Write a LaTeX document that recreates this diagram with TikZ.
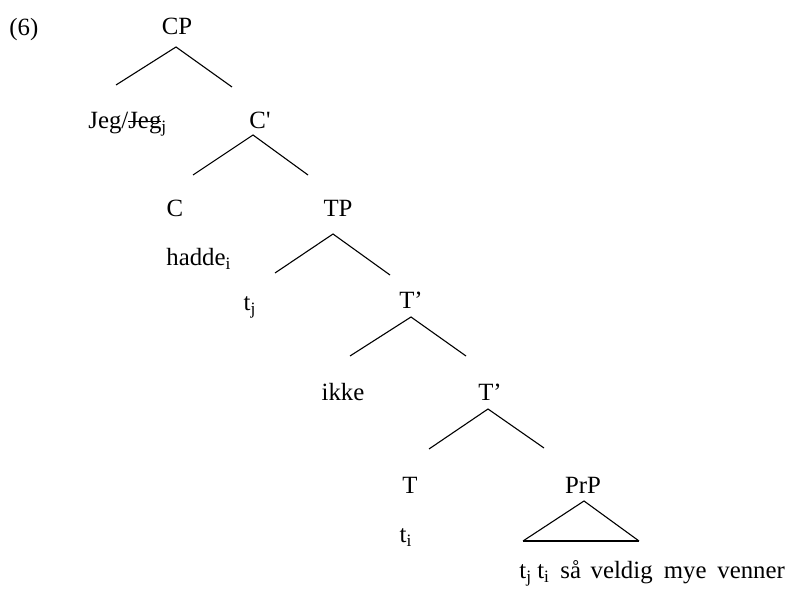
\documentclass[tikz,border=0pt]{standalone}
\usepackage{fontspec}
\setmainfont{Liberation Serif}
\newfontfamily\rawserif{Liberation Serif}
\usepackage{tikz}
\usetikzlibrary{positioning, calc}
\newcommand{\strikeword}[1]{\setbox0\hbox{#1}\rlap{\rule[0.3em]{\wd0}{0.5pt}}\box0}

\begin{document}
\begin{tikzpicture}[
    x=0.5pt, y=-0.5pt,
    font=\fontsize{12.4}{14}\selectfont,
    treelabel/.style={inner sep=0pt, text height=1.6ex, text depth=0.3ex, yshift=-1.5pt},
    branchline/.style={line width=0.55pt, line join=miter},
]
\useasboundingbox (0,0) rectangle (788,593);

% branch: name, top, left end, right end
\newcommand{\treebranch}[4]{%
    \coordinate (#1-top) at (#2);
    \coordinate (#1-l) at (#3);
    \coordinate (#1-r) at (#4);
    \draw[branchline] (#1-l) -- (#1-top) -- (#1-r);
}

% ================= LABELS =================
\node[treelabel, anchor=west] (ex) at (9,27) {(6)};
\node[treelabel] (cp) at (177,26) {CP};
\node[treelabel, anchor=west] (jeg) at (88,120) {Jeg/\strikeword{Jeg}\textsubscript{j}};
\node[treelabel] (cbar) at (260,120) {{\rawserif C'}};
\node[treelabel] (c) at (175,208) {C};
\node[treelabel, anchor=west] (hadde) at (166,257) {hadde\textsubscript{i}};
\node[treelabel] (tp) at (338,208) {TP};
\node[treelabel] (tj) at (250,302) {t\textsubscript{j}};
\node[treelabel] (tbarA) at (411,300) {T’};
\node[treelabel] (ikke) at (343,392) {ikke};
\node[treelabel] (tbarB) at (490,392) {T’};
\node[treelabel] (t) at (410,485) {T};
\node[treelabel] (ti) at (406,534) {t\textsubscript{i}};
\node[treelabel] (prp) at (583,485) {PrP};
\node[treelabel, anchor=west] (words) at (519,570)
    {t\textsubscript{j}\hspace{2.6pt}t\textsubscript{i}\hspace{5.2pt}så\hspace{4.8pt}veldig\hspace{5.6pt}mye\hspace{5.4pt}venner};

% ================= BRANCHES =================
\treebranch{cp}{176,47}{116,85}{232,87}
\treebranch{cbar}{253,135}{193,175}{308,175}
\treebranch{tp}{333,234}{275,273}{390,275}
\treebranch{tbarA}{411,317}{350,356}{466,356}
\treebranch{tbarB}{488,409}{429,449}{544,448}

% triangle under PrP
\treebranch{prp}{584,501}{523,541}{639,541}
\draw[branchline] (prp-l) -- (prp-r);

\end{tikzpicture}
\end{document}
